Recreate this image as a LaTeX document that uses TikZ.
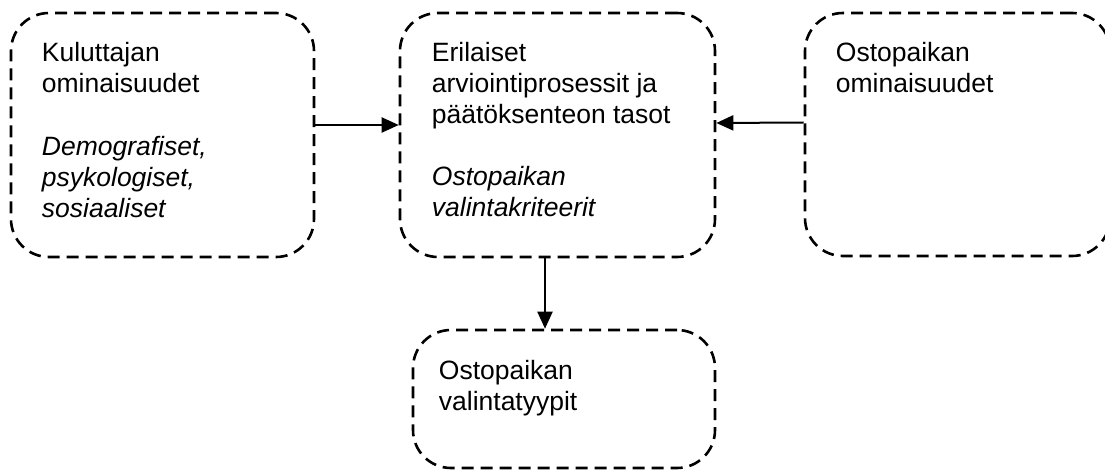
\documentclass[tikz,border=0pt]{standalone}
\usepackage{fontspec}
\setmainfont{Liberation Sans}
\usetikzlibrary{positioning,arrows.meta}
\tikzset{dash box/.style={draw,line width=2.6pt,dash pattern=on 12pt off 7pt,rounded corners=38pt,inner sep=0pt},
	box text/.style={align=left,inner sep=0pt,font=\fontsize{26.5}{31}\selectfont},
	flow arrow/.style={-{Triangle[length=17pt,width=15pt]},line width=2pt}}

\begin{document}
\begin{tikzpicture}[x=1pt,y=1pt]
			\useasboundingbox (0,0) rectangle (1105,469);
			% laatikot
			\node[dash box,minimum width=303pt,minimum height=244pt] (kul) at (162.5,334) {};
			\node[dash box,minimum width=315pt,minimum height=244pt] (eri) at (557.5,334) {};
			\node[dash box,minimum width=305pt,minimum height=243pt] (ost) at (957.5,334.5) {};
			\node[dash box,minimum width=302pt,minimum height=138pt] (typ) at (564,70) {};
			% tekstit
			\node[box text,below right=30pt and 32pt of kul.north west] (kultxt)
				{Kuluttajan\\ominaisuudet\\[32pt]\textit{Demografiset,}\\\textit{psykologiset,}\\\textit{sosiaaliset}};
			\node[box text,below right=30pt and 33pt of eri.north west] (eritxt)
				{Erilaiset\\arviointiprosessit ja\\päätöksenteon tasot\\[31pt]\textit{Ostopaikan}\\\textit{valintakriteerit}};
			\node[box text,below right=30pt and 32pt of ost.north west] (osttxt)
				{Ostopaikan\\ominaisuudet};
			\node[box text,below right=31pt and 27pt of typ.north west] (typtxt)
				{Ostopaikan\\valintatyypit};
			% nuolet
			\draw[flow arrow] ([yshift=10pt]kul.east) -- ([yshift=10pt]eri.west);
			\draw[flow arrow] ([yshift=12pt]ost.west) -- ([yshift=12pt]eri.east);
			\draw[flow arrow] ([xshift=-12.5pt]eri.south) -- ([xshift=-12.5pt]eri.south |- typ.north);
		\end{tikzpicture}
\end{document}
